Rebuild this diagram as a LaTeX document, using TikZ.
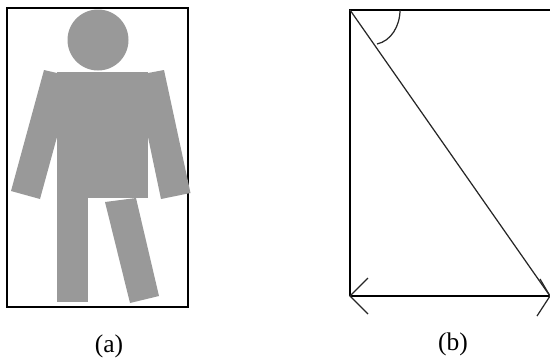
\documentclass[tikz,border=0pt]{standalone}
\usepackage{fontspec}
\setmainfont{Liberation Serif}
\usepackage{xcolor}
\definecolor{bodygray}{HTML}{999999}
\begin{document}
\begin{tikzpicture}[x=0.02cm, y=-0.02cm, font=\fontsize{14.5pt}{17pt}\selectfont,
    figbody/.style={fill=bodygray, draw=none},
    frameline/.style={draw=black, line width=0.8pt},
    thinline/.style={draw=black!85, line width=0.7pt}]
  \useasboundingbox (0,0) rectangle (550,360);
  % (a) Rahmen und Figur
  \draw[frameline] (7,8) rectangle (188,307);
  \fill[figbody] (98,40) circle (30.5);
  \fill[figbody] (57,72) rectangle (148,198);
  \fill[figbody] (57,198) rectangle (88,302);
  \fill[figbody] (105,202) -- (136,198) -- (159,296) -- (130,303) -- cycle;
  % Arme
  \fill[figbody] (44,70) -- (57,73) -- (57,137) -- (40,199) -- (11,191) -- cycle;
  \fill[figbody] (148,73) -- (164,70) -- (190.5,193) -- (161,199) -- (148,137) -- cycle;
  % (b) Rahmen, Diagonale, Winkelbogen
  \draw[frameline] (350,296) -- (350,10) -- (550,10);
  \draw[frameline] (350,296) -- (550,296);
  \draw[thinline] (350,10) -- (550,296);
  \draw[thinline] (400,10) .. controls (400,26) and (391,41) .. (377,44);
  % Pfeilspitzen unten
  \draw[thinline] (368,278) -- (350,296) -- (368,314);
  \draw[thinline] (537,316) -- (550,296) -- (540,279);
  % Beschriftungen
  \node (labela) at (109,346) {(a)};
  \node (labelb) at (453,344) {(b)};
\end{tikzpicture}
\end{document}
